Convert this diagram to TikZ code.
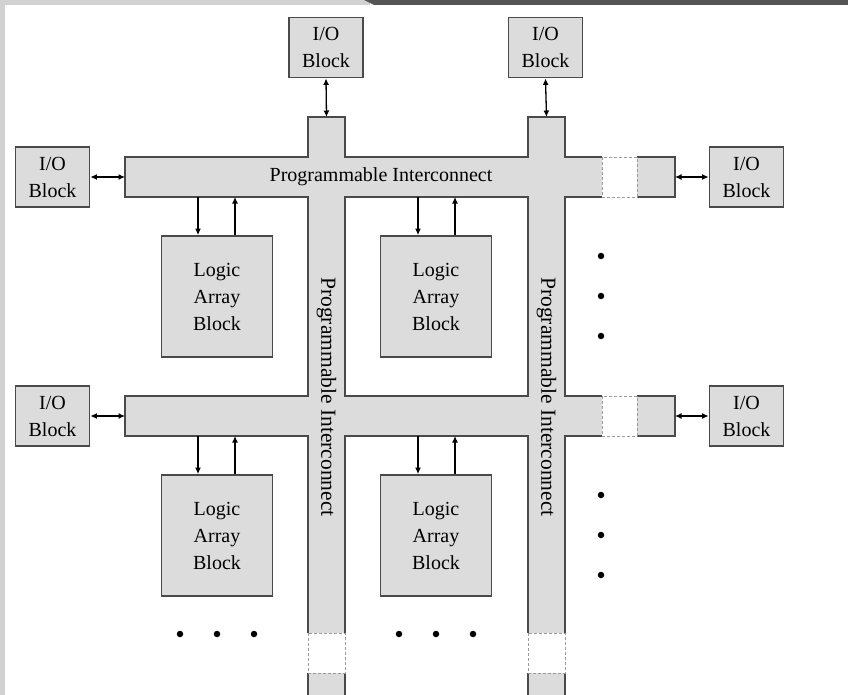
\documentclass[tikz,border=0pt]{standalone}
\usepackage{fontspec}
\setmainfont{Liberation Serif}
\usetikzlibrary{arrows.meta}
\definecolor{barfill}{HTML}{DCDCDC}
\definecolor{edge}{HTML}{4A4A4A}
\definecolor{framel}{HTML}{D2D2D2}
\definecolor{framed}{HTML}{555555}
\tikzset{
  blk/.style={draw=edge, line width=1.8pt, fill=barfill, inner sep=0pt, align=center,
    font=\fontsize{20}{27}\selectfont},
  iob/.style={blk, minimum width=74pt, minimum height=60pt},
  lab/.style={blk, minimum width=111pt, minimum height=121pt},
  conn/.style={line width=1.3pt, black, -{Latex[length=6.5pt,width=6pt]}},
  bconn/.style={line width=1.3pt, black, {Latex[length=6.5pt,width=6pt]}-{Latex[length=6.5pt,width=6pt]}},
  solidedge/.style={draw=edge, line width=1.8pt},
  dashedge/.style={draw=edge!55, line width=0.9pt, densely dashed},
  ic/.style={font=\fontsize{20}{24}\selectfont, inner sep=0pt},
  icv/.style={font=\fontsize{21.5}{24}\selectfont, inner sep=0pt, rotate=-90},
  dotmark/.style={circle, fill=black, inner sep=0pt, minimum size=6.5pt}
}
\begin{document}
\begin{tikzpicture}[x=1pt,y=-1pt]
\useasboundingbox (0,0) rectangle (848,695);
\fill[white] (0,0) rectangle (848,695);
% frame
\fill[framel] (0,0) rectangle (370,5);
\fill[framel] (0,0) rectangle (5,695);
\fill[framed] (364,0) -- (848,0) -- (848,5) -- (374,5) -- cycle;

% interconnect fill
\fill[barfill] (125,157) rectangle (602,197);
\fill[barfill] (125,396) rectangle (602,436);
\fill[barfill] (308,117) rectangle (345,633);
\fill[barfill] (528,117) rectangle (565,633);
\fill[barfill] (637,157) rectangle (675,197);
\fill[barfill] (637,396) rectangle (675,436);
\fill[barfill] (308,673) rectangle (345,700);
\fill[barfill] (528,673) rectangle (565,700);
% interconnect outline (solid parts)
\draw[solidedge, line join=miter]
  (602,157) -- (565,157) -- (565,117) -- (528,117) -- (528,157) -- (345,157) -- (345,117)
  -- (308,117) -- (308,157) -- (125,157) -- (125,197) -- (308,197) -- (308,396) -- (125,396)
  -- (125,436) -- (308,436) -- (308,633);
\draw[solidedge] (345,633) -- (345,436) -- (528,436) -- (528,633);
\draw[solidedge] (565,633) -- (565,436) -- (602,436);
\draw[solidedge] (602,396) -- (565,396) -- (565,197) -- (602,197);
\draw[solidedge] (345,197) rectangle (528,396);
% continuation stubs
\draw[solidedge] (637,157) -- (675,157) -- (675,197) -- (637,197);
\draw[solidedge] (637,396) -- (675,396) -- (675,436) -- (637,436);
\draw[solidedge] (308,700) -- (308,673);
\draw[solidedge] (345,700) -- (345,673);
\draw[solidedge] (528,700) -- (528,673);
\draw[solidedge] (565,700) -- (565,673);
% dashed gaps
\draw[dashedge] (602,157) rectangle (637,197);
\draw[dashedge] (602,396) rectangle (637,436);
\draw[dashedge] (308,633) rectangle (345,673);
\draw[dashedge] (528,633) rectangle (565,673);

% interconnect labels
\node[ic] (icH) at (381,177) {Programmable Interconnect};
\node[icv] (icV1) at (326.5,397) {Programmable Interconnect};
\node[icv] (icV2) at (546.5,397) {Programmable Interconnect};

% bar attachment points
\coordinate (tv1) at (326.5,117);
\coordinate (tv2) at (546.5,117);
\coordinate (hl1) at (125,177);
\coordinate (hl2) at (125,416);
\coordinate (hr1) at (675,177);
\coordinate (hr2) at (675,416);

% I/O blocks
\node[iob] (iot1) at (326,47.5) {I/O\\Block};
\node[iob] (iot2) at (545.5,47.5) {I/O\\Block};
\node[iob] (iol1) at (52.5,177) {I/O\\Block};
\node[iob] (iol2) at (52.5,416) {I/O\\Block};
\node[iob] (ior1) at (746.5,177) {I/O\\Block};
\node[iob] (ior2) at (746.5,416) {I/O\\Block};

\draw[bconn] (iot1.south) -- (tv1);
\draw[bconn] (iot2.south) -- (tv2);
\draw[bconn] (iol1.east) -- (hl1);
\draw[bconn] (iol2.east) -- (hl2);
\draw[bconn] (hr1) -- (ior1.west);
\draw[bconn] (hr2) -- (ior2.west);

% Logic array blocks
\node[lab] (lab1) at (217,296.5) {Logic\\Array\\Block};
\node[lab] (lab2) at (436,296.5) {Logic\\Array\\Block};
\node[lab] (lab3) at (217,535.5) {Logic\\Array\\Block};
\node[lab] (lab4) at (436,535.5) {Logic\\Array\\Block};

\coordinate (d1) at (198,197);  \coordinate (u1) at (235,197);
\coordinate (d2) at (418,197);  \coordinate (u2) at (455,197);
\coordinate (d3) at (198,436);  \coordinate (u3) at (235,436);
\coordinate (d4) at (418,436);  \coordinate (u4) at (455,436);

\draw[conn] (d1) -- (lab1.north -| d1);
\draw[conn] (lab1.north -| u1) -- (u1);
\draw[conn] (d2) -- (lab2.north -| d2);
\draw[conn] (lab2.north -| u2) -- (u2);
\draw[conn] (d3) -- (lab3.north -| d3);
\draw[conn] (lab3.north -| u3) -- (u3);
\draw[conn] (d4) -- (lab4.north -| d4);
\draw[conn] (lab4.north -| u4) -- (u4);

% ellipsis dots
\foreach \yy [count=\i] in {256,296,336,495,535,575}
  \node[dotmark] (vd\i) at (601,\yy) {};
\foreach \xx [count=\i] in {180,217,254,399,436,473}
  \node[dotmark] (hd\i) at (\xx,634) {};
\end{tikzpicture}
\end{document}
